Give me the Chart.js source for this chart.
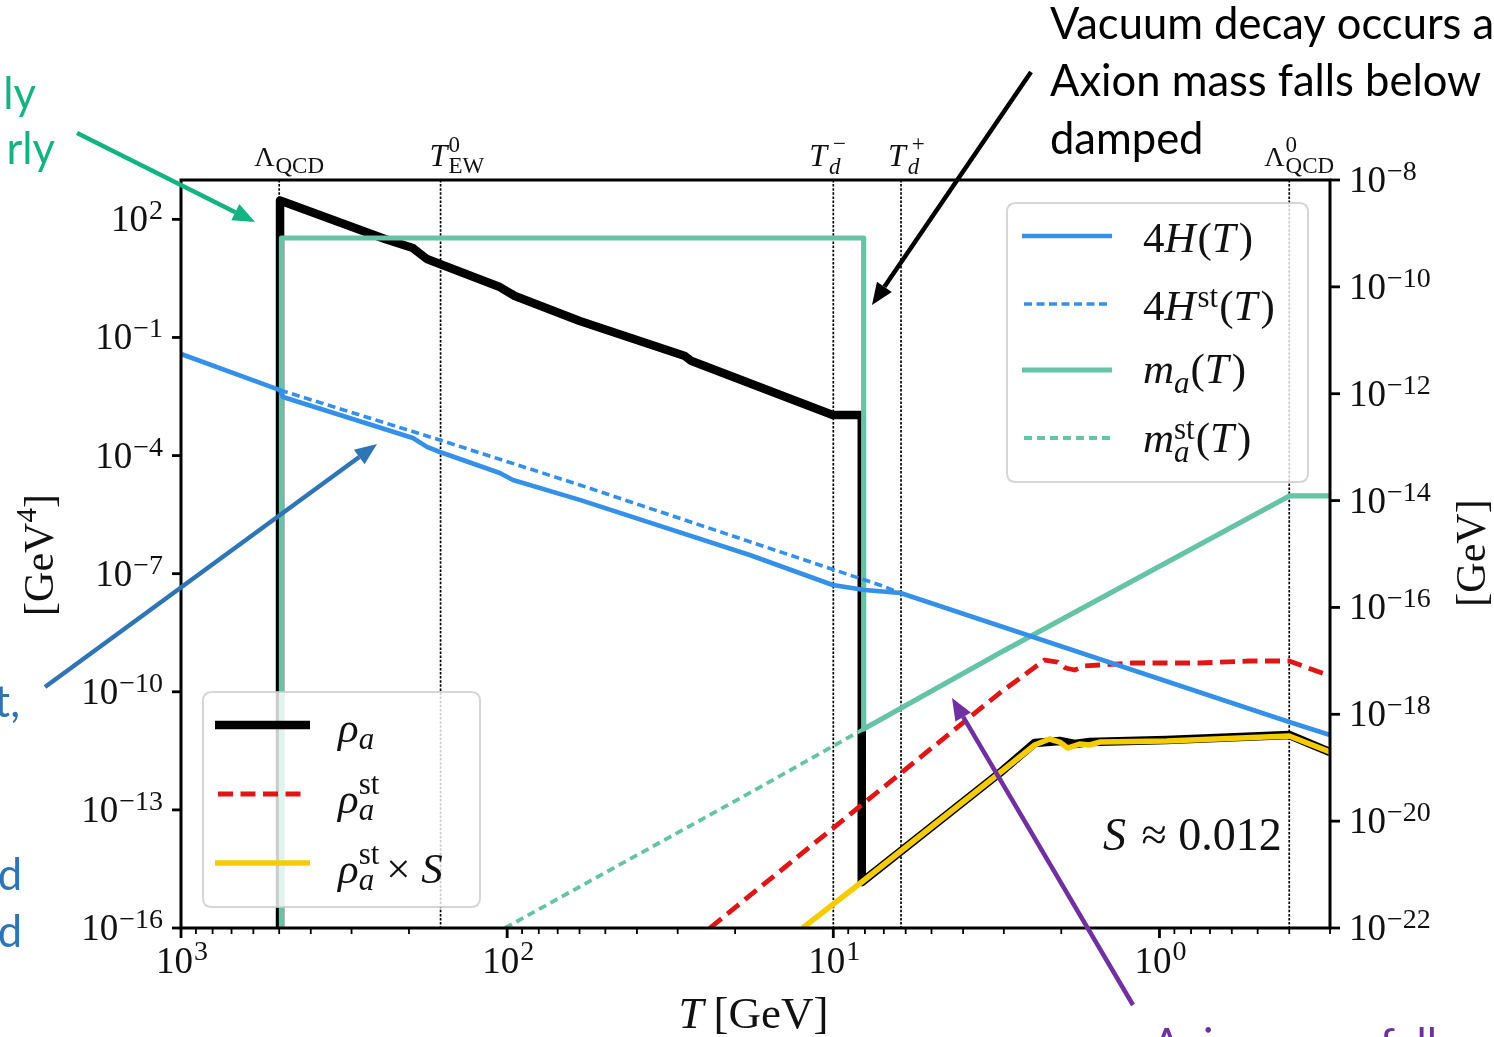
<!DOCTYPE html>
<html>
<head>
<meta charset="utf-8">
<title>Axion energy density and mass vs temperature</title>
<script src="https://cdn.jsdelivr.net/npm/chart.js@4.4.1/dist/chart.umd.min.js"></script>
<style>
  html, body { margin: 0; padding: 0; background: #ffffff; }
  canvas { display: block; }
</style>
</head>
<body>
<canvas id="c" width="1494" height="1037"></canvas>
<script>
// ---- Data: temperature T in GeV ----
// Axion energy density rho_a [GeV^4] (left axis)
const rhoT   = [497, 497, 237, 194.5, 176.2, 160.8, 105.3, 94.7, 59.9, 28.5, 27.2, 10.04, 8.18, 8.18, 3.09, 2.414, 2.024, 1.820, 1.637, 0.951, 0.4, 0.3];
const rhoVal = [1e-16, 300, 31.7, 18.7, 9.84, 7.34, 1.91, 1.13, 0.262, 0.0338, 0.0252, 1.07e-3, 1.07e-3, 1.47e-15, 8.65e-13, 5.0e-12, 5.62e-12, 4.72e-12, 5.30e-12, 5.96e-12, 7.97e-12, 2.95e-12];

// Standard-cosmology energy density rho_a^st [GeV^4]
const rhoStT   = [23.9, 3.09, 2.249, 2.052, 1.940, 1.820, 1.696, 1.526, 1.209, 0.754, 0.530, 0.4, 0.3];
const rhoStVal = [1e-16, 9.31e-11, 6.41e-10, 5.70e-10, 4.02e-10, 3.57e-10, 4.52e-10, 4.79e-10, 5.38e-10, 5.38e-10, 6.05e-10, 6.05e-10, 2.52e-10];

// Diluted standard density rho_a^st x S [GeV^4]
const rhoST   = [12.41, 8.18, 3.09, 2.414, 2.172, 2.024, 1.912, 1.757, 1.637, 1.526, 0.951, 0.4, 0.3];
const rhoSVal = [1e-16, 1.47e-15, 8.65e-13, 4.45e-12, 6.32e-12, 5.30e-12, 3.73e-12, 4.72e-12, 4.45e-12, 5.30e-12, 5.62e-12, 7.54e-12, 2.95e-12];

// 4H(T) [GeV] (right axis)
const hubbleT   = [1000, 497, 487, 194.5, 176.2, 160.8, 105.3, 96.0, 59.9, 18.04, 10.04, 8.01, 6.22, 0.4, 0.3];
const hubbleVal = [5.54e-12, 1.17e-12, 8.68e-13, 1.48e-13, 1.01e-13, 8.11e-14, 3.28e-14, 2.43e-14, 1.03e-14, 9.58e-16, 2.63e-16, 2.12e-16, 1.86e-16, 7.18e-19, 4.10e-19];

// 4H^st(T) [GeV]
const hubbleStT   = [497, 160.8, 59.9, 7.06, 6.22];
const hubbleStVal = [1.17e-12, 1.36e-13, 1.96e-14, 2.52e-16, 1.86e-16];

// Axion mass m_a(T) [GeV]
const massT   = [492, 492, 8.07, 8.07, 3.09, 0.4, 0.3];
const massVal = [1e-22, 8.21e-10, 8.21e-10, 5.31e-19, 1.40e-17, 1.22e-14, 1.22e-14];

// Standard axion mass m_a^st(T) [GeV]
const massStT   = [101.6, 18.04, 8.07];
const massStVal = [1e-22, 3.37e-20, 5.31e-19];

// Reference temperatures marked by dotted lines
const markerT = [500, 160, 10, 6.2, 0.4];

// Tick values
const xTickValues      = [1000, 100, 10, 1];
const yLeftTickValues  = [1e2, 1e-1, 1e-4, 1e-7, 1e-10, 1e-13, 1e-16];
const yRightTickValues = [1e-8, 1e-10, 1e-12, 1e-14, 1e-16, 1e-18, 1e-20, 1e-22];

// ---- Drawing helpers ----
const SERIF = '"Liberation Serif", "Times New Roman", serif';
const SANS  = 'Lato, "Liberation Sans", sans-serif';

const pts = (xs, ys) => xs.map((x, i) => ({ x: x, y: ys[i] }));

function fontOf(p) { return (p.it ? 'italic ' : '') + p.size + 'px ' + (p.fam || SERIF); }
function partWidth(ctx, p) {
  if (p.stack) return Math.max.apply(null, p.stack.map(q => partWidth(ctx, q))) + (p.gap || 0);
  ctx.font = fontOf(p);
  return ctx.measureText(p.t).width + (p.gap || 0);
}
function drawRich(ctx, parts, x, y, align) {
  const w = parts.reduce((s, p) => s + partWidth(ctx, p), 0);
  let cx = align === 'center' ? x - w / 2 : (align === 'right' ? x - w : x);
  ctx.textAlign = 'left';
  ctx.textBaseline = 'alphabetic';
  const one = (p, px) => { ctx.font = fontOf(p); ctx.fillText(p.t, px + (p.dx || 0), y + (p.dy || 0)); };
  parts.forEach(p => {
    if (p.stack) p.stack.forEach(q => one(q, cx)); else one(p, cx);
    cx += partWidth(ctx, p);
  });
  return w;
}
function expLabel(v, main, sup, dy) {
  const n = Math.round(Math.log10(v));
  const e = n < 0 ? '\u2212' + (-n) : String(n);
  return [{ t: '10', size: main, gap: 1 }, { t: e, size: sup, dy: dy }];
}
function roundRectPath(ctx, x, y, w, h, r) {
  ctx.beginPath();
  ctx.moveTo(x + r, y);
  ctx.lineTo(x + w - r, y); ctx.quadraticCurveTo(x + w, y, x + w, y + r);
  ctx.lineTo(x + w, y + h - r); ctx.quadraticCurveTo(x + w, y + h, x + w - r, y + h);
  ctx.lineTo(x + r, y + h); ctx.quadraticCurveTo(x, y + h, x, y + h - r);
  ctx.lineTo(x, y + r); ctx.quadraticCurveTo(x, y, x + r, y);
  ctx.closePath();
}
function legendBox(ctx, x0, y0, x1, y1) {
  ctx.save();
  roundRectPath(ctx, x0, y0, x1 - x0, y1 - y0, 9);
  ctx.fillStyle = 'rgba(255,255,255,0.8)';
  ctx.fill();
  ctx.strokeStyle = 'rgba(204,204,204,0.8)';
  ctx.lineWidth = 2;
  ctx.stroke();
  ctx.restore();
}
function handle(ctx, ds, x0, x1, y) {
  ctx.save();
  ctx.strokeStyle = ds.borderColor;
  ctx.lineWidth = ds.borderWidth;
  ctx.setLineDash(ds.borderDash || []);
  ctx.lineCap = 'butt';
  ctx.beginPath(); ctx.moveTo(x0, y); ctx.lineTo(x1, y); ctx.stroke();
  ctx.restore();
}
function arrow(ctx, x0, y0, x1, y1, color, w) {
  const a = Math.atan2(y1 - y0, x1 - x0), L = 22, H = 9;
  const bx = x1 - L * Math.cos(a), by = y1 - L * Math.sin(a);
  ctx.save();
  ctx.strokeStyle = color; ctx.fillStyle = color; ctx.lineWidth = w; ctx.lineCap = 'butt';
  ctx.setLineDash([]);
  ctx.beginPath(); ctx.moveTo(x0, y0); ctx.lineTo(bx, by); ctx.stroke();
  ctx.beginPath();
  ctx.moveTo(x1, y1);
  ctx.lineTo(bx + H * Math.sin(a), by - H * Math.cos(a));
  ctx.lineTo(bx - H * Math.sin(a), by + H * Math.cos(a));
  ctx.closePath(); ctx.fill();
  ctx.restore();
}

// ---- Figure decorations: frame, ticks, labels, legends, notes ----
const figurePlugin = {
  id: 'figure',
  beforeDatasetsDraw(chart) {
    const { ctx, chartArea: a } = chart;
    const x = chart.scales.x;
    ctx.save();
    ctx.strokeStyle = '#000';
    ctx.lineWidth = 1.7;
    ctx.setLineDash([2.5, 1.6]);
    markerT.forEach(t => {
      const px = x.getPixelForValue(t);
      ctx.beginPath(); ctx.moveTo(px, a.top); ctx.lineTo(px, a.bottom); ctx.stroke();
    });
    ctx.restore();
  },
  afterDatasetsDraw(chart) {
    const { ctx, chartArea: a } = chart;
    const x = chart.scales.x, yl = chart.scales.y, yr = chart.scales.y2;
    const ds = chart.data.datasets;

    // Legends
    legendBox(ctx, 203, 692, 480, 907);
    legendBox(ctx, 1007, 203, 1308, 482);
    ctx.fillStyle = '#111';
    const LS = 43, LSUB = 31;
    // left legend: rho_a, rho_a^st, rho_a^st x S
    handle(ctx, ds[0], 215, 310, 725);
    drawRich(ctx, [{ t: '\u03C1', size: LS, it: true }, { t: 'a', size: LSUB, it: true, dy: 7 }], 338, 742);
    handle(ctx, ds[1], 218, 306, 794);
    drawRich(ctx, [{ t: '\u03C1', size: LS, it: true },
      { stack: [{ t: 'st', size: LSUB, dy: -19 }, { t: 'a', size: LSUB, it: true, dy: 7 }] }], 338, 813);
    handle(ctx, ds[2], 215, 310, 863);
    drawRich(ctx, [{ t: '\u03C1', size: LS, it: true },
      { stack: [{ t: 'st', size: LSUB, dy: -19 }, { t: 'a', size: LSUB, it: true, dy: 7 }], gap: 7 },
      { t: '\u00D7 ', size: LS }, { t: 'S', size: LS, it: true }], 338, 883);
    // right legend: 4H, 4H^st, m_a, m_a^st
    handle(ctx, ds[6], 1022, 1112, 236);
    drawRich(ctx, [{ t: '4', size: LS }, { t: 'H', size: LS, it: true, gap: 2 }, { t: '(', size: LS },
      { t: 'T', size: LS, it: true, gap: 3 }, { t: ')', size: LS }], 1143, 252);
    handle(ctx, ds[5], 1024, 1110, 304);
    drawRich(ctx, [{ t: '4', size: LS }, { t: 'H', size: LS, it: true, gap: 2 }, { t: 'st', size: LSUB, dy: -13, gap: 1 },
      { t: '(', size: LS }, { t: 'T', size: LS, it: true, gap: 3 }, { t: ')', size: LS }], 1143, 320);
    handle(ctx, ds[4], 1022, 1112, 370);
    drawRich(ctx, [{ t: 'm', size: LS, it: true }, { t: 'a', size: LSUB, it: true, dy: 10, gap: 1 }, { t: '(', size: LS },
      { t: 'T', size: LS, it: true, gap: 3 }, { t: ')', size: LS }], 1143, 383);
    handle(ctx, ds[3], 1024, 1110, 438);
    drawRich(ctx, [{ t: 'm', size: LS, it: true },
      { stack: [{ t: 'st', size: LSUB, dy: -13 }, { t: 'a', size: LSUB, it: true, dy: 10 }], gap: 1 },
      { t: '(', size: LS }, { t: 'T', size: LS, it: true, gap: 3 }, { t: ')', size: LS }], 1143, 452);

    // Frame
    ctx.save();
    ctx.strokeStyle = '#000';
    ctx.lineWidth = 3;
    ctx.setLineDash([]);
    ctx.strokeRect(a.left, a.top, a.right - a.left, a.bottom - a.top);

    // Bottom ticks (major + minor)
    const dec = [0.1, 1, 10, 100];
    ctx.lineWidth = 1.8;
    dec.forEach(d => { for (let k = 2; k <= 9; k++) {
      const v = k * d;
      if (v < x.min || v > x.max) continue;
      const px = x.getPixelForValue(v);
      ctx.beginPath(); ctx.moveTo(px, a.bottom); ctx.lineTo(px, a.bottom + 6); ctx.stroke();
    } });
    ctx.lineWidth = 2.8;
    ctx.fillStyle = '#111';
    xTickValues.forEach(v => {
      const px = x.getPixelForValue(v);
      ctx.beginPath(); ctx.moveTo(px, a.bottom); ctx.lineTo(px, a.bottom + 10); ctx.stroke();
      drawRich(ctx, expLabel(v, 37, 28, -13), px + 1, a.bottom + 45, 'center');
    });
    // Left ticks
    yLeftTickValues.forEach(v => {
      const py = yl.getPixelForValue(v);
      ctx.beginPath(); ctx.moveTo(a.left - 9, py); ctx.lineTo(a.left, py); ctx.stroke();
      drawRich(ctx, expLabel(v, 37, 28, -12), a.left - 18, py + 12, 'right');
    });
    // Right ticks
    yRightTickValues.forEach(v => {
      const py = yr.getPixelForValue(v);
      ctx.beginPath(); ctx.moveTo(a.right, py); ctx.lineTo(a.right + 10, py); ctx.stroke();
      drawRich(ctx, expLabel(v, 37, 28, -12), a.right + 19, py + 12, 'left');
    });
    ctx.restore();

    // Axis titles
    ctx.fillStyle = '#111';
    drawRich(ctx, [{ t: 'T', size: 45, it: true, gap: 10 }, { t: '[GeV]', size: 45 }], (a.left + a.right) / 2 - 2, 1028, 'center');
    ctx.save();
    ctx.translate(53, (a.top + a.bottom) / 2 + 1);
    ctx.rotate(-Math.PI / 2);
    drawRich(ctx, [{ t: '[GeV', size: 42 }, { t: '4', size: 29, dy: -17 }, { t: ']', size: 42 }], 0, 0, 'center');
    ctx.restore();
    ctx.save();
    ctx.translate(1485, (a.top + a.bottom) / 2 - 1);
    ctx.rotate(-Math.PI / 2);
    drawRich(ctx, [{ t: '[GeV]', size: 42 }], 0, 0, 'center');
    ctx.restore();

    // Labels of the reference temperatures
    const sub = 23;
    const markerLabelParts = [
      [{ t: '\u039B', size: 28, gap: 1 }, { t: 'QCD', size: sub, dy: 7 }],
      [{ t: 'T', size: 32, it: true, gap: 1 }, { stack: [{ t: '0', size: sub, dy: -14 }, { t: 'EW', size: sub, dy: 7 }] }],
      [{ t: 'T', size: 32, it: true, gap: 2 }, { stack: [{ t: '\u2212', size: sub, dy: -15, dx: 4 }, { t: 'd', size: sub, it: true, dy: 8 }] }],
      [{ t: 'T', size: 32, it: true, gap: 2 }, { stack: [{ t: '+', size: sub, dy: -15, dx: 4 }, { t: 'd', size: sub, it: true, dy: 8 }] }],
      [{ t: '\u039B', size: 28, gap: 1 }, { stack: [{ t: '0', size: sub, dy: -14 }, { t: 'QCD', size: sub, dy: 7 }] }]
    ];
    const markerLabelShift = [-25, -11, -24, -13, -25];
    markerT.forEach((t, i) => {
      drawRich(ctx, markerLabelParts[i], x.getPixelForValue(t) + markerLabelShift[i], 166, 'left');
    });

    // Dilution factor note
    drawRich(ctx, [{ t: 'S', size: 46, it: true, gap: 4 }, { t: ' \u2248 0.012', size: 46 }], 1103, 850, 'left');

    // Slide notes and arrows
    ctx.font = '100px ' + SANS;
    const noteSize = 100 * 228 / ctx.measureText('Axion mass ').width;
    const note = (txt, px, py, color, align) => {
      ctx.font = noteSize.toFixed(1) + 'px ' + SANS;
      ctx.fillStyle = color; ctx.textAlign = align || 'left'; ctx.textBaseline = 'alphabetic';
      ctx.fillText(txt, px, py);
    };
    note('Vacuum decay occurs a', 1050, 39, '#000');
    note('Axion mass falls below', 1050, 96, '#000');
    note('damped', 1050, 154, '#000');
    note('ly', 36, 109, '#14B482', 'right');
    note('rly', 55, 164, '#14B482', 'right');
    note('t,', 20, 717, '#2E75B6', 'right');
    note('d', 22, 890, '#2E75B6', 'right');
    note('d', 22, 947, '#2E75B6', 'right');
    note('Axion mass falls', 1152, 1060, '#7030A0');
    ctx.textAlign = 'left';

    arrow(ctx, 77, 133, 255, 222, '#14B482', 4.5);
    arrow(ctx, 1031, 72, 872, 305, '#000000', 4.5);
    arrow(ctx, 45, 687, 377, 444, '#2E75B6', 4.5);
    arrow(ctx, 1133, 1005, 952, 698, '#7030A0', 4.5);
  }
};

const common = { pointRadius: 0, pointHoverRadius: 0, tension: 0, fill: false, clip: 0,
                 borderJoinStyle: 'round', borderCapStyle: 'butt' };

new Chart(document.getElementById('c'), {
  type: 'line',
  data: {
    datasets: [
      Object.assign({ label: 'rho_a', data: pts(rhoT, rhoVal), yAxisID: 'y',
        borderColor: '#000000', borderWidth: 8.5, order: 7 }, common),
      Object.assign({ label: 'rho_a^st', data: pts(rhoStT, rhoStVal), yAxisID: 'y',
        borderColor: '#E01515', borderWidth: 4.8, borderDash: [15, 7.5], order: 6 }, common),
      Object.assign({ label: 'rho_a^st x S', data: pts(rhoST, rhoSVal), yAxisID: 'y',
        borderColor: '#F5CC00', borderWidth: 5.5, order: 5 }, common),
      Object.assign({ label: 'm_a^st(T)', data: pts(massStT, massStVal), yAxisID: 'y2',
        borderColor: '#66C4A6', borderWidth: 3.8, borderDash: [8, 5], order: 4 }, common),
      Object.assign({ label: 'm_a(T)', data: pts(massT, massVal), yAxisID: 'y2',
        borderColor: '#66C4A6', borderWidth: 5.2, order: 3 }, common),
      Object.assign({ label: '4H^st(T)', data: pts(hubbleStT, hubbleStVal), yAxisID: 'y2',
        borderColor: '#3490E8', borderWidth: 3.6, borderDash: [8, 4.5], order: 2 }, common),
      Object.assign({ label: '4H(T)', data: pts(hubbleT, hubbleVal), yAxisID: 'y2',
        borderColor: '#3490E8', borderWidth: 4.6, order: 1 }, common)
    ]
  },
  options: {
    responsive: false,
    animation: false,
    devicePixelRatio: 1,
    layout: { padding: { left: 181, top: 180, right: 164, bottom: 109 } },
    plugins: { legend: { display: false }, tooltip: { enabled: false } },
    events: [],
    scales: {
      x:  { type: 'logarithmic', reverse: true, min: 0.3, max: 1000, bounds: 'data', display: false },
      y:  { type: 'logarithmic', position: 'left', min: 1e-16, max: 1e3, bounds: 'data', display: false },
      y2: { type: 'logarithmic', position: 'right', min: 1e-22, max: 1e-8, bounds: 'data', display: false }
    }
  },
  plugins: [figurePlugin]
});
</script>
</body>
</html>
